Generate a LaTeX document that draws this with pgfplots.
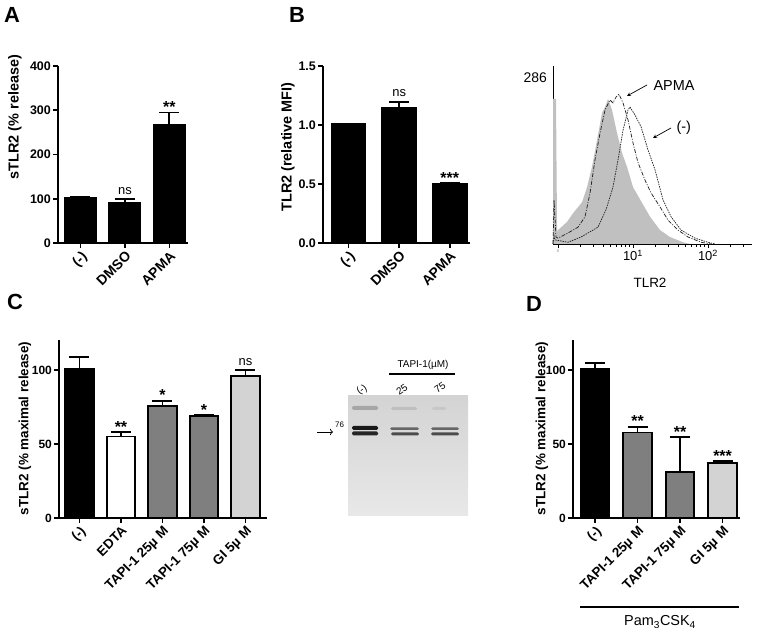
\documentclass[border=0pt]{standalone}
\usepackage{fontspec}
\setmainfont{Liberation Sans}
\usepackage{pgfplots}
\pgfplotsset{compat=1.18}
\usetikzlibrary{arrows.meta}
\definecolor{midgray}{HTML}{7F7F7F}
\definecolor{ltgray}{HTML}{D3D3D3}
\definecolor{histgray}{HTML}{C0C0C0}
\tikzset{
  sig/.style={anchor=south, inner sep=1.5pt, yshift=3bp, font=\fontsize{13}{13}\selectfont},
  star/.style={anchor=south, inner sep=0.5pt, yshift=-1bp, font=\fontsize{16}{16}\bfseries\selectfont},
}
\pgfplotsset{
  gp/.style 2 args={scale only axis, anchor=south west, clip=false,
    axis lines*=left, axis line style={line width=1.8pt,-},
    tick style={line width=1.6pt, black}, tick align=outside,
    major tick length=5bp, ymin=0,
    /pgf/number format/assume math mode=true,
    yticklabel style={font=\fontsize{#1}{#1}\bfseries\selectfont, inner sep=2pt},
    xticklabel style={font=\fontsize{#2}{#2}\bfseries\selectfont, rotate=45, anchor=north east, inner sep=1.5pt}},
  gpbar/.style={ybar, bar shift=0pt, fill=#1, draw=black, line width=1.8pt,
    /pgfplots/error bars/y dir=plus, /pgfplots/error bars/y explicit,
    /pgfplots/error bars/error bar style={line width=1.8pt, black, solid},
    /pgfplots/error bars/error mark options={rotate=90, line width=1.8pt, mark size=10bp, black}},
}
\begin{document}
\begin{tikzpicture}[x=1bp,y=1bp]
\useasboundingbox (0,0) rectangle (757,633);
% ---------- Panel letters
\node[font=\fontsize{22}{22}\bfseries\selectfont] at (12,618) {A};
\node[font=\fontsize{22}{22}\bfseries\selectfont] at (297,618) {B};
\node[font=\fontsize{22}{22}\bfseries\selectfont] at (15,331) {C};
\node[font=\fontsize{22}{22}\bfseries\selectfont] at (534,329) {D};

% ---------- Panel A
\begin{axis}[gp={12.5}{14}, at={(58bp,390bp)}, width=130bp, height=177bp,
  xmin=-0.506, xmax=2.42, ymax=400, ytick={0,100,200,300,400},
  xtick={0,1,2}, xticklabels={(-),DMSO,APMA}]
\addplot[gpbar=black, bar width=0.7] coordinates {(0,103) +- (0,1) (1,91) +- (0,8) (2,268) +- (0,27)};
\node[sig] at (axis cs:1,99) {ns};
\node[star] at (axis cs:2,295) {**};
\end{axis}
\node[rotate=90, font=\fontsize{14.5}{14.5}\bfseries\selectfont] at (15,516) {sTLR2 (\% release)};

% ---------- Panel B
\begin{axis}[gp={12.5}{14}, at={(323bp,390bp)}, width=147bp, height=177bp,
  xmin=-0.505, xmax=2.4, ymax=1.5, ytick={0,0.5,1,1.5},
  yticklabel style={/pgf/number format/.cd, fixed, fixed zerofill, precision=1},
  xtick={0,1,2}, xticklabels={(-),DMSO,APMA}]
\addplot[gpbar=black, bar width=0.67] coordinates {(0,1.005) +- (0,0.005) (1,1.147) +- (0,0.05) (2,0.497) +- (0,0.013)};
\node[sig] at (axis cs:1,1.2) {ns};
\node[star] at (axis cs:2,0.51) {***};
\end{axis}
\node[rotate=90, font=\fontsize{14.5}{14.5}\bfseries\selectfont] at (288,486) {TLR2 (relative MFI)};

% ---------- Histogram
\begin{axis}[scale only axis, anchor=south west, clip=false, at={(553bp,389bp)},
  width=199bp, height=178bp, xmin=-0.067, xmax=2.587, ymin=0, ymax=306.7,
  axis lines*=left, axis line style={line width=0.9pt,-},
  ytick={286}, yticklabels={286}, ytick style={draw=none},
  yticklabel style={font=\fontsize{14}{14}\selectfont, inner sep=2pt},
  xtick={0,1,2},
  xticklabels={{\fontsize{4}{4}\selectfont\color{gray}0},{10\textsuperscript{1}},{10\textsuperscript{2}}},
  xticklabel style={font=\fontsize{13}{13}\selectfont, inner sep=2pt},
  minor xtick={0.301,0.477,0.602,0.699,0.778,0.845,0.903,0.954,1.301,1.477,1.602,1.699,1.778,1.845,1.903,1.954,2.301,2.477},
  tick align=outside, major tick length=4bp, minor tick length=3bp,
  tick style={line width=0.7pt, black}]
\addplot[fill=histgray, draw=none] coordinates {
 (-0.067,0) (-0.067,250) (-0.027,250) (-0.013,19) (0,24) (0.12,38) (0.2,53) (0.32,72) (0.387,98)
 (0.453,133) (0.52,179) (0.587,226) (0.627,236) (0.667,250) (0.72,231) (0.787,191) (0.853,157)
 (0.92,133) (1.0,98) (1.12,71) (1.227,47) (1.36,24) (1.493,12) (1.667,3) (1.76,0)} \closedcycle;
\addplot[black!85, line width=0.75pt, dash pattern=on 4pt off 1.5pt on 1pt off 1.5pt] coordinates {
 (-0.067,0) (-0.053,76) (-0.027,12) (0,10) (0.133,19) (0.267,29) (0.36,47) (0.427,88) (0.493,145)
 (0.56,191) (0.627,231) (0.693,248) (0.733,243) (0.773,253) (0.813,258) (0.867,243) (0.933,214)
 (1.0,174) (1.067,140) (1.16,110) (1.24,88) (1.36,64) (1.467,41) (1.6,24) (1.733,12) (1.907,3) (2.04,0)};
\addplot[black!85, line width=0.75pt, dash pattern=on 1.5pt off 1pt] coordinates {
 (-0.067,0) (-0.053,14) (-0.04,7) (0.133,3) (0.307,12) (0.533,29) (0.64,59) (0.733,98) (0.8,145)
 (0.867,196) (0.933,231) (0.96,236) (1.027,222) (1.107,202) (1.2,162) (1.293,128) (1.4,76)
 (1.507,47) (1.64,24) (1.827,10) (2.0,3) (2.093,0)};
\end{axis}
\node[font=\fontsize{14.5}{14.5}\selectfont, anchor=west] at (650,547) {APMA};
\draw[-stealth, line width=0.7pt] (647,548) -- (627,537);
\node[font=\fontsize{14.5}{14.5}\selectfont, anchor=west] at (673,505) {(-)};
\draw[-stealth, line width=0.7pt] (671,505) -- (653,495);
\node[font=\fontsize{13.5}{13.5}\selectfont] at (650,350) {TLR2};

% ---------- Panel C
\begin{axis}[gp={12}{13.5}, at={(59bp,115bp)}, width=208bp, height=177.6bp,
  xmin=-0.494, xmax=4.52, ymax=120, ytick={0,50,100},
  xtick={0,1,2,3,4}, xticklabels={(-),EDTA,TAPI-1 25µ M,TAPI-1 75µ M,GI 5µ M}]
\addplot[gpbar=black, bar width=0.69] coordinates {(0,100.7) +- (0,8.3)};
\addplot[gpbar=white, bar width=0.69] coordinates {(1,55) +- (0,3)};
\addplot[gpbar=midgray, bar width=0.69] coordinates {(2,75.7) +- (0,3.6)};
\addplot[gpbar=midgray, bar width=0.69] coordinates {(3,69) +- (0,0.5)};
\addplot[gpbar=ltgray, bar width=0.69] coordinates {(4,96.2) +- (0,3.8)};
\node[star] at (axis cs:1,58) {**};
\node[star] at (axis cs:2,79.3) {*};
\node[star] at (axis cs:3,69.5) {*};
\node[sig] at (axis cs:4,100) {ns};
\end{axis}
\node[rotate=90, font=\fontsize{13.5}{13.5}\bfseries\selectfont] at (25,204.5) {sTLR2 (\% maximal release)};

% ---------- Western blot
\shade[top color=black!17, bottom color=black!9] (348,117) rectangle (468,237);
\fill[black!35, rounded corners=1.5] (352,223) rectangle (378,227);
\fill[black!25, rounded corners=1.5] (391,223) rectangle (417,226);
\fill[black!22, rounded corners=1.5] (432,223) rectangle (446,226);
\fill[black!90, rounded corners=1.5] (352,203) rectangle (378,207);
\fill[black!85, rounded corners=1.5] (352,197.5) rectangle (378,201.5);
\fill[black!60, rounded corners=1.5] (390,203) rectangle (419,205.5);
\fill[black!70, rounded corners=1.5] (391,197.5) rectangle (419,200.5);
\fill[black!60, rounded corners=1.5] (431,203) rectangle (459,205.5);
\fill[black!70, rounded corners=1.5] (431,197.5) rectangle (459,200.5);
\node[font=\fontsize{10}{10}\selectfont] at (423,268) {TAPI-1(µM)};
\draw[line width=1.2pt] (389,259) -- (455,259);
\node[rotate=35, font=\fontsize{10}{10}\selectfont] at (362,243) {(-)};
\node[rotate=35, font=\fontsize{10}{10}\selectfont] at (402,243) {25};
\node[rotate=35, font=\fontsize{10}{10}\selectfont] at (440,245) {75};
\node[font=\fontsize{8}{8}\selectfont, anchor=west, inner sep=0pt] at (335,208) {76};
\draw[-{To[length=3pt]}, line width=0.7pt] (317,201) -- (333,201);

% ---------- Panel D
\begin{axis}[gp={12}{13.5}, at={(573bp,115bp)}, width=167bp, height=177.6bp,
  xmin=-0.518, xmax=3.41, ymax=120, ytick={0,50,100},
  xtick={0,1,2,3}, xticklabels={(-),TAPI-1 25µ M,TAPI-1 75µ M,GI 5µ M}]
\addplot[gpbar=black, bar width=0.67] coordinates {(0,100.5) +- (0,4)};
\addplot[gpbar=midgray, bar width=0.67] coordinates {(1,57.7) +- (0,4)};
\addplot[gpbar=midgray, bar width=0.67] coordinates {(2,30.9) +- (0,23.6)};
\addplot[gpbar=ltgray, bar width=0.67] coordinates {(3,37) +- (0,1.5)};
\node[star] at (axis cs:1,61.7) {**};
\node[star] at (axis cs:2,54.5) {**};
\node[star] at (axis cs:3,38.5) {***};
\end{axis}
\node[rotate=90, font=\fontsize{13.5}{13.5}\bfseries\selectfont] at (542,204.5) {sTLR2 (\% maximal release)};
\draw[line width=1.2pt] (580,26) -- (739,26);
\node[font=\fontsize{14.5}{14.5}\selectfont] at (660,11) {Pam\textsubscript{3}CSK\textsubscript{4}};
\end{tikzpicture}
\end{document}
